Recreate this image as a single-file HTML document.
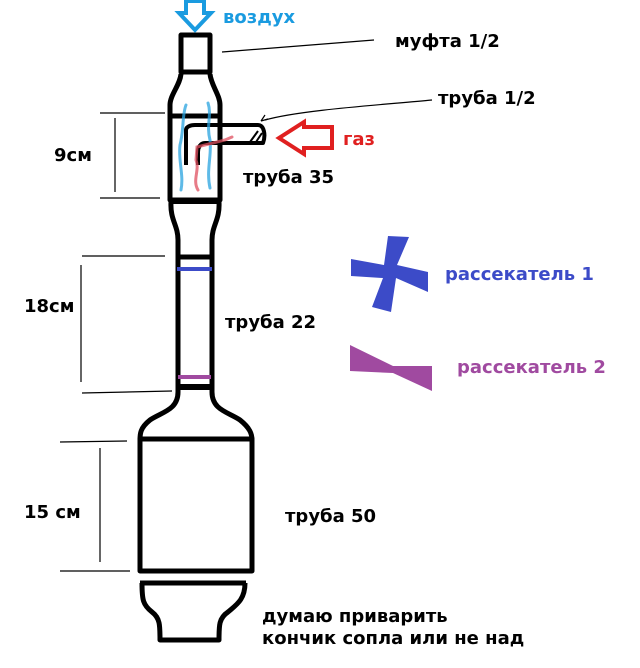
<!DOCTYPE html>
<html><head><meta charset="utf-8"><style>
body{margin:0;background:#fff;width:640px;height:668px;overflow:hidden}
svg{display:block}
text{font-family:"DejaVu Sans","Liberation Sans",sans-serif;font-weight:bold;font-size:18px}
</style></head><body>
<svg width="640" height="668" viewBox="0 0 640 668" xmlns="http://www.w3.org/2000/svg">
<g fill="none" stroke="#000" stroke-width="5" stroke-linejoin="round">
<rect x="181" y="35" width="29" height="37"/>
<path d="M181,74 C180,85 170,95 170,105 L170,200 M210,74 C211,85 220,95 220,105 L220,200"/>
<rect x="170" y="116" width="50" height="84"/>
<line x1="170" y1="201" x2="220" y2="201" stroke-width="6"/>
<path d="M171,202 C170,220 178,225 178,240 L178,392 M219,202 C220,220 212,225 212,240 L212,392"/>
<line x1="178" y1="257" x2="212" y2="257"/>
<line x1="178" y1="387" x2="212" y2="387" stroke-width="6"/>
<path d="M178,392 C178,410 162,412 150,420 C140,428 140,434 140,440 M212,392 C212,410 228,412 240,420 C250,428 252,434 252,440"/>
<rect x="140" y="439" width="112" height="132"/>
<path d="M140,583 L246,583 M142,583 C142,600 143,605 152,612 C160,618 160,625 160,640 L219,640 C219,625 219,618 228,612 C236,605 245,600 245,583"/>
<path d="M186,165 L186,130 C186,127 190,125 195,125 L258,125 C264,125 266,135 263,143 L218,143 L205,143 C200,143 198,148 198,152 L198,165" stroke-width="4"/>
<path d="M250,142 L258,131 M256,142 L262,133" stroke-width="2"/>
</g>
<g fill="none" stroke-width="3" stroke-linecap="round" opacity="0.75">
<path d="M186,105 C182,115 184,130 180,145 C178,160 184,175 181,190" stroke="#29a3e0"/>
<path d="M208,103 C212,115 206,125 210,140 C212,155 206,170 210,188" stroke="#29a3e0"/>
<path d="M198,190 C192,180 200,170 196,160 L197,147 L225,140 L232,137" stroke="#e05060"/>
</g>
<g stroke="#000" stroke-width="1.2" fill="none">
<line x1="222" y1="52" x2="374" y2="40"/>
<path d="M265,120 C300,110 380,105 432,100"/>
<path d="M261,121 L265,115 M261,121 L268,119"/>
<line x1="100" y1="113" x2="165" y2="113"/><line x1="115" y1="118" x2="115" y2="192"/><line x1="100" y1="198" x2="160" y2="198"/>
<line x1="82" y1="256" x2="165" y2="256"/><line x1="81" y1="265" x2="81" y2="382"/><line x1="82" y1="393" x2="172" y2="391"/>
<line x1="60" y1="442" x2="127" y2="441"/><line x1="100" y1="448" x2="100" y2="562"/><line x1="60" y1="571" x2="130" y2="571"/>
</g>
<line x1="177" y1="269" x2="212" y2="269" stroke="#3c4bc8" stroke-width="4"/>
<line x1="178" y1="377" x2="211" y2="377" stroke="#a04aa0" stroke-width="4"/>
<path d="M186,1 L204,1 L204,13 L211,13 L195,30 L179,13 L186,13 Z" fill="#fff" stroke="#1a9be0" stroke-width="4" stroke-linejoin="miter"/>
<path d="M332,127 L304,127 L304,122 L279,138 L304,154 L304,148 L332,148 Z" fill="#fff" stroke="#e02020" stroke-width="4"/>
<path d="M388,236 L409,237 L397,265 L428,272 L428,292 L396,278 L391,312 L372,307 L383,278 L351,276 L351,259 L384,265 Z" fill="#3c4bc8"/>
<path d="M350,345 L393,366 L432,366 L432,391 L393,373 L350,371 Z" fill="#a04aa0"/>
<text x="223" y="23" fill="#1a9be0">воздух</text>
<text x="395" y="47" fill="#000">муфта 1/2</text>
<text x="438" y="104" fill="#000">труба 1/2</text>
<text x="343" y="145" fill="#e02020">газ</text>
<text x="243" y="183" fill="#000">труба 35</text>
<text x="54" y="161" fill="#000">9см</text>
<text x="445" y="280" fill="#3c4bc8">рассекатель 1</text>
<text x="24" y="312" fill="#000">18см</text>
<text x="225" y="328" fill="#000">труба 22</text>
<text x="457" y="373" fill="#a04aa0">рассекатель 2</text>
<text x="24" y="518" fill="#000">15 см</text>
<text x="285" y="522" fill="#000">труба 50</text>
<text x="262" y="622" fill="#000">думаю приварить</text>
<text x="262" y="644" fill="#000">кончик сопла или не над</text>
</svg>
</body></html>
